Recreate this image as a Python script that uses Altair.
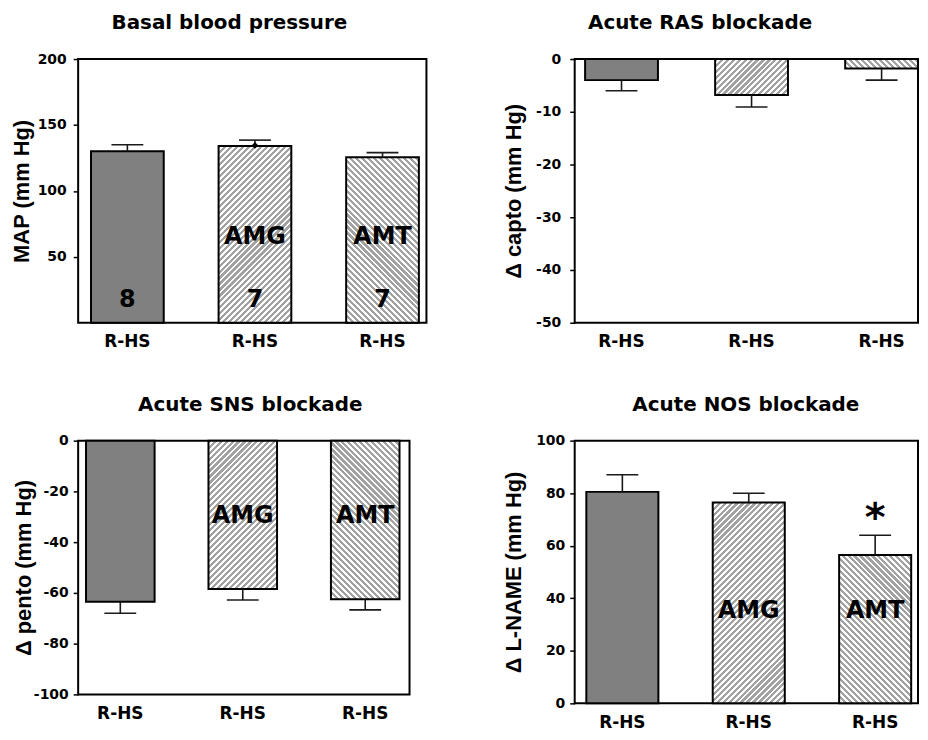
import altair as alt
import pandas as pd

# ---------------- data ----------------
groups = ["Control", "AMG", "AMT"]
x_tick_labels = ["R-HS", "R-HS", "R-HS"]

titles = ["Basal blood pressure", "Acute RAS blockade", "Acute SNS blockade", "Acute NOS blockade"]
y_titles = ["MAP (mm Hg)", "Δ capto (mm Hg)", "Δ pento (mm Hg)", "Δ L-NAME (mm Hg)"]

basal_mean = [130.0, 134.0, 125.5]
basal_sem = [5.0, 4.5, 3.5]
ras_mean = [-4.0, -6.8, -1.8]
ras_sem = [2.0, 2.3, 2.2]
sns_mean = [-63.5, -58.5, -62.5]
sns_sem = [4.5, 4.3, 4.2]
nos_mean = [80.5, 76.5, 56.5]
nos_sem = [6.5, 3.5, 7.5]

basal_domain = [0, 200]
ras_domain = [-50, 0]
sns_domain = [-100, 0]
nos_domain = [0, 100]

basal_ticks = [50, 100, 150, 200]
ras_ticks = [0, -10, -20, -30, -40, -50]
sns_ticks = [0, -20, -40, -60, -80, -100]
nos_ticks = [0, 20, 40, 60, 80, 100]

# in-bar annotations (group, y anchor in data units, text)
n_groups = ["Control", "AMG", "AMT"]
n_texts = ["8", "7", "7"]
n_y = [12.3, 12.3, 12.3]

name_groups = ["AMG", "AMT"]
name_texts = ["AMG", "AMT"]
basal_name_y = [59.5, 59.5]
sns_name_y = [-32.3, -32.3]
nos_name_y = [32.4, 32.4]

marker_groups = ["AMG"]
marker_y = [134.5]

star_groups = ["AMT"]
star_texts = ["*"]
star_y = [65.5]

# ---------------- style ----------------
FONT = "DejaVu Sans"
TITLE_FONT_Y = "Liberation Sans"
SOLID = "#808080"
HATCH = "#a2a2a2"
label_lookup = "{" + ",".join(f"'{g}':'{l}'" for g, l in zip(groups, x_tick_labels)) + "}"


def hatch(w, h, direction, period=6.0, frac=0.52):
    L = w + h
    t = L / (w * w + h * h)
    if direction == "/":
        x1, y1, x2, y2 = 0, 0, t * w, t * h
    else:
        x1, y1, x2, y2 = 0, 1, t * w, 1 - t * h
    n = L / period
    stops = []
    k = 0
    while k < n:
        a = k / n
        b = min((k + frac) / n, 1.0)
        c = min((k + 1) / n, 1.0)
        stops += [
            {"offset": a, "color": HATCH},
            {"offset": b, "color": HATCH},
            {"offset": b, "color": "#ffffff"},
            {"offset": c, "color": "#ffffff"},
        ]
        k += 1
    return {"gradient": "linear", "x1": x1, "y1": y1, "x2": x2, "y2": y2, "stops": stops}


def panel(title, ytitle, means, sems, domain, ticks, W, H, pi, po, align,
          title_dx, label_pad, title_x, extras):
    his = [m + (s if m >= 0 else -s) for m, s in zip(means, sems)]
    df = pd.DataFrame({"group": groups, "mean": means, "hi": his, "zero": [0] * len(groups)})
    step = W / (3 - pi + 2 * po)
    bw = step * (1 - pi)
    span = domain[1] - domain[0]

    xenc = alt.X(
        "group:N", sort=groups,
        scale=alt.Scale(domain=groups, paddingInner=pi, paddingOuter=po, align=align),
        axis=alt.Axis(title=None, labelAngle=0, ticks=False, tickSize=0, domain=False,
                      labelExpr=label_lookup + "[datum.value]",
                      labelFont=FONT, labelFontSize=17, labelFontWeight="bold",
                      labelColor="black", labelPadding=11),
    )
    yscale = alt.Scale(domain=domain, nice=False)
    yaxis = alt.Axis(values=ticks, title=ytitle, grid=False, domain=False,
                     labelExpr="'' + datum.value",
                     tickSize=5, tickWidth=1.5, tickColor="black",
                     labelFont=FONT, labelFontSize=14, labelFontWeight="bold",
                     labelColor="black", labelPadding=label_pad,
                     titleFont=TITLE_FONT_Y, titleFontSize=22, titleFontWeight="bold",
                     titleColor="black", titleX=title_x, titleY=H / 2,
                     titleBaseline="middle", titleAngle=270)

    base = alt.Chart(df)
    layers = []
    for g, m in zip(groups, means):
        h = abs(m) / span * H
        if g == "Control":
            fill = SOLID
        elif g == "AMG":
            fill = hatch(bw, h, "/")
        else:
            fill = hatch(bw, h, "\\")
        layers.append(
            base.transform_filter(alt.datum.group == g)
            .mark_bar(fill=fill, stroke="black", strokeWidth=2)
            .encode(x=xenc, y=alt.Y("mean:Q", scale=yscale, axis=yaxis), y2="zero:Q")
        )
    layers.append(
        base.mark_rule(color="#1a1a1a", strokeWidth=1.6)
        .encode(x=xenc, y=alt.Y("mean:Q", scale=yscale, axis=yaxis), y2="hi:Q")
    )
    layers.append(
        base.mark_tick(orient="horizontal", size=32, thickness=1.6, color="#1a1a1a", opacity=1)
        .encode(x=xenc, y=alt.Y("hi:Q", scale=yscale, axis=yaxis))
    )
    for kind, gs, ys, txt, size in extras:
        edf = pd.DataFrame({"group": gs, "y": ys, "label": txt})
        ch = alt.Chart(edf)
        if kind == "text":
            layers.append(
                ch.mark_text(font=FONT, fontSize=size, fontWeight="bold", color="black",
                             baseline="alphabetic")
                .encode(x=xenc, y=alt.Y("y:Q", scale=yscale, axis=yaxis), text="label:N")
            )
        else:
            layers.append(
                ch.mark_point(shape="diamond", filled=True, color="black", size=size, opacity=1)
                .encode(x=xenc, y=alt.Y("y:Q", scale=yscale, axis=yaxis))
            )
    return alt.layer(*layers).properties(
        width=W, height=H,
        title=alt.TitleParams(title, font=FONT, fontSize=20, fontWeight="bold", color="black",
                              anchor="middle", frame="group", dx=title_dx,
                              baseline="alphabetic", offset=3),
    )


p1 = panel(titles[0], y_titles[0], basal_mean, basal_sem, basal_domain, basal_ticks,
           350, 265, 0.43, 0.08, 0.63, -23, 7, -57,
           [("text", n_groups, n_y, n_texts, 24),
            ("text", name_groups, basal_name_y, name_texts, 24),
            ("point", marker_groups, marker_y, [""], 45)])
p2 = panel(titles[1], y_titles[1], ras_mean, ras_sem, ras_domain, ras_ticks,
           345, 265, 0.44, 0.04, 1.0, -46.5, 9, -61.5, [])
p3 = panel(titles[2], y_titles[2], sns_mean, sns_sem, sns_domain, sns_ticks,
           333, 255, 0.44, 0.073, 0.44, 6.5, 5, -55,
           [("text", name_groups, sns_name_y, name_texts, 24)])
p4 = panel(titles[3], y_titles[3], nos_mean, nos_sem, nos_domain, nos_ticks,
           345, 264, 0.43, 0.073, 0.63, -0.5, 5, -61,
           [("text", name_groups, nos_name_y, name_texts, 24),
            ("text", star_groups, star_y, star_texts, 40)])

chart = (
    alt.concat(p1, p2, p3, p4, columns=2, bounds="flush",
               spacing={"row": 118.5, "column": 149})
    .properties(padding={"left": 1.5, "top": 2.5, "right": 0, "bottom": -3}, background="white")
    .configure_view(stroke="black", strokeWidth=2)
)

chart.save("out.html", embed_options={"renderer": "svg", "actions": False})
